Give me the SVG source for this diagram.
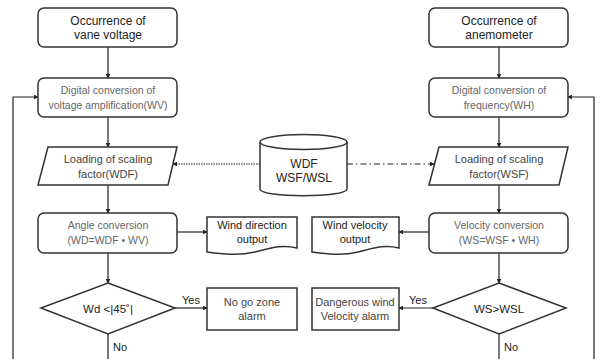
<svg xmlns="http://www.w3.org/2000/svg" width="600" height="359" viewBox="0 0 600 359">
<defs>
<style>
.box{fill:#fff;stroke:#333;stroke-width:1.5}
.ln{fill:none;stroke:#222;stroke-width:1.2}
.t{font-family:"Liberation Sans",Arial,sans-serif;text-anchor:middle;fill:#222}
.big{font-size:12px}
.sm{font-size:10.5px;fill:#666}
.md{font-size:11px;fill:#444}
.lb{font-family:"Liberation Sans",Arial,sans-serif;font-size:11px;fill:#222}
</style>
<marker id="ah" viewBox="0 0 8 8" refX="7" refY="4" markerWidth="5" markerHeight="5" orient="auto-start-reverse" markerUnits="userSpaceOnUse">
<path d="M0,0 L8,4 L0,8 Z" fill="#222"/>
</marker>
</defs>
<rect width="600" height="359" fill="#fff"/>
<g id="connectors">
<path class="ln" d="M108,47 V78" marker-end="url(#ah)"/>
<path class="ln" d="M108,117 V147" marker-end="url(#ah)"/>
<path class="ln" d="M108,185 V213" marker-end="url(#ah)"/>
<path class="ln" d="M108,253 V283" marker-end="url(#ah)"/>
<path class="ln" d="M177,232 H207" marker-end="url(#ah)"/>
<path class="ln" d="M175,308 H207" marker-end="url(#ah)"/>
<path class="ln" d="M108,334 V359"/>
<path class="ln" d="M13,359 V97 H38" marker-end="url(#ah)"/>
<path class="ln" d="M499,47 V78" marker-end="url(#ah)"/>
<path class="ln" d="M499,117 V147" marker-end="url(#ah)"/>
<path class="ln" d="M499,185 V213" marker-end="url(#ah)"/>
<path class="ln" d="M499,253 V283" marker-end="url(#ah)"/>
<path class="ln" d="M429,232 H399" marker-end="url(#ah)"/>
<path class="ln" d="M433,308 H399" marker-end="url(#ah)"/>
<path class="ln" d="M499,334 V359"/>
<path class="ln" d="M594,359 V97 H568" marker-end="url(#ah)"/>
<path class="ln" d="M260,164 H173" stroke-dasharray="1.5,1" marker-end="url(#ah)"/>
<path class="ln" d="M347,164 H434" stroke-dasharray="6,3,1.5,3" marker-end="url(#ah)"/>
<text class="lb" x="182" y="304">Yes</text>
<text class="lb" x="409" y="304">Yes</text>
<text class="lb" x="113" y="351">No</text>
<text class="lb" x="504" y="351">No</text>
</g>
<g id="n1">
<rect class="box" x="38" y="8" width="139" height="39" rx="6"/>
<text class="t big" x="108" y="25">Occurrence of</text>
<text class="t big" x="108" y="39">vane voltage</text>
</g>
<g id="n2">
<rect class="box" x="38" y="78" width="139" height="39" rx="6"/>
<text class="t sm" x="108" y="94">Digital conversion of</text>
<text class="t sm" x="108" y="109">voltage amplification(WV)</text>
</g>
<g id="n3">
<path class="box" d="M48,147 H177 L168,185 H38 Z"/>
<text class="t md" x="108" y="163">Loading  of scaling</text>
<text class="t md" x="108" y="178">factor(WDF)</text>
</g>
<g id="n4">
<rect class="box" x="38" y="213" width="139" height="40" rx="6"/>
<text class="t sm" x="108" y="229">Angle conversion</text>
<text class="t sm" x="108" y="244">(WD=WDF • WV)</text>
</g>
<g id="n5">
<path class="box" d="M207,217 H297 V248 C280,244 268,249 255,252 C238,256 222,254 207,252 Z"/>
<text class="t md" x="252" y="229" style="fill:#222">Wind  direction</text>
<text class="t md" x="252" y="243" style="fill:#222">output</text>
</g>
<g id="n6">
<path class="box" d="M108,283 L175,308 L108,334 L41,308 Z"/>
<text class="t big" x="108" y="313" style="font-size:11.5px">Wd &lt;|45˚|</text>
</g>
<g id="n7">
<rect class="box" x="207" y="288" width="90" height="42"/>
<text class="t md" x="252" y="306">No go zone</text>
<text class="t md" x="252" y="320">alarm</text>
</g>
<g id="n8">
<path class="box" d="M260,142 V189 C260,198 347,198 347,189 V142"/>
<ellipse class="box" cx="303.5" cy="142" rx="43.5" ry="7.5"/>
<text class="t big" x="304" y="168">WDF</text>
<text class="t big" x="304" y="182">WSF/WSL</text>
</g>
<g id="n9">
<rect class="box" x="429" y="8" width="139" height="39" rx="6"/>
<text class="t big" x="499" y="25">Occurrence of</text>
<text class="t big" x="499" y="39">anemometer</text>
</g>
<g id="n10">
<rect class="box" x="429" y="78" width="139" height="39" rx="6"/>
<text class="t sm" x="499" y="94">Digital conversion of</text>
<text class="t sm" x="499" y="109">frequency(WH)</text>
</g>
<g id="n11">
<path class="box" d="M439,147 H568 L559,185 H429 Z"/>
<text class="t md" x="499" y="163">Loading  of scaling</text>
<text class="t md" x="499" y="178">factor(WSF)</text>
</g>
<g id="n12">
<rect class="box" x="429" y="213" width="139" height="40" rx="6"/>
<text class="t sm" x="499" y="229">Velocity conversion</text>
<text class="t sm" x="499" y="244">(WS=WSF • WH)</text>
</g>
<g id="n13">
<path class="box" d="M312,217 H399 V248 C383,244 371,249 358,252 C342,256 327,254 312,252 Z"/>
<text class="t md" x="355" y="229" style="fill:#222">Wind  velocity</text>
<text class="t md" x="355" y="243" style="fill:#222">output</text>
</g>
<g id="n14">
<path class="box" d="M499,283 L566,308 L499,334 L433,308 Z"/>
<text class="t big" x="499" y="313" style="font-size:11.5px">WS&gt;WSL</text>
</g>
<g id="n15">
<rect class="box" x="312" y="288" width="87" height="42"/>
<text class="t md" x="355" y="306">Dangerous wind</text>
<text class="t md" x="355" y="320">Velocity alarm</text>
</g>
</svg>
